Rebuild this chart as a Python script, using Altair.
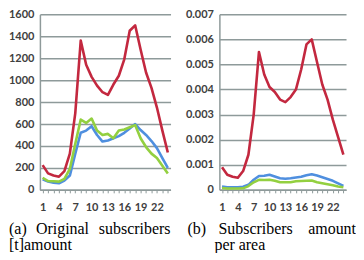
import altair as alt
import pandas as pd

hours = list(range(1, 25))

# Panel (a): original subscribers amount
blue_a = [95, 75, 65, 60, 85, 130, 330, 520, 540, 580, 500, 440, 450, 470, 490, 520, 560, 600, 545, 500, 445, 380, 290, 200]
green_a = [110, 80, 78, 75, 100, 190, 420, 640, 610, 650, 540, 500, 510, 470, 540, 550, 570, 590, 470, 390, 330, 290, 220, 150]
red_a = [225, 150, 130, 120, 170, 330, 700, 1360, 1140, 1030, 950, 890, 865, 960, 1040, 1190, 1450, 1500, 1280, 1070, 930, 750, 540, 340]

# Panel (b): subscribers amount per area
blue_b = [0.00013, 0.0001, 0.0001, 0.0001, 0.00012, 0.0002, 0.0004, 0.00055, 0.00056, 0.0006, 0.00053, 0.00046,
          0.00044, 0.00046, 0.00049, 0.00052, 0.00058, 0.00062, 0.00057, 0.0005, 0.00043, 0.00036, 0.00026, 0.00016]
green_b = [0.00007, 0.00005, 0.00005, 0.00005, 0.00006, 0.00015, 0.0003, 0.0004, 0.00039, 0.0004, 0.00036, 0.0003,
           0.0003, 0.0003, 0.00034, 0.00035, 0.00036, 0.00037, 0.0003, 0.00026, 0.00022, 0.00018, 0.00013, 0.0001]
red_b = [0.0009, 0.0006, 0.00052, 0.00048, 0.00075, 0.0014, 0.003, 0.0055, 0.0046, 0.0041, 0.0039, 0.0036,
         0.0035, 0.0037, 0.0040, 0.0048, 0.0058, 0.0060, 0.0051, 0.0042, 0.0036, 0.0028, 0.0021, 0.0014]

series_order = ["blue", "green", "red"]
colors = ["#4f8fdf", "#93d040", "#c3283f"]

y_ticks_a = [0, 200, 400, 600, 800, 1000, 1200, 1400, 1600]
y_ticks_b = [0, 0.001, 0.002, 0.003, 0.004, 0.005, 0.006, 0.007]

# caption words: (text, x offset from plot's left edge, line, align)
caption_a = [("(a)", -31, 0, "left"), ("Original", -4, 0, "left"),
             ("subscribers", 131, 0, "right"), ("[t]amount", -31, 1, "left")]
caption_b = [("(b)", -32, 0, "left"), ("Subscribers", -1, 0, "left"),
             ("amount", 137, 0, "right"), ("per area", -5, 1, "left")]

SERIF = "Liberation Serif"
PLOT_H = 176
LINE_Y = [220, 236]


def make_df(blue, green, red):
    rows = []
    for name, vals in zip(series_order, [blue, green, red]):
        for h, v in zip(hours, vals):
            rows.append({"hour": h, "series": name, "value": v})
    return pd.DataFrame(rows)


def panel(df, ticks, label_expr, extent, width, caption):
    x = alt.X("hour:O", sort=hours, title=None,
              axis=alt.Axis(labelAngle=0, labelOverlap=False, grid=False,
                            labelExpr="datum.value % 3 == 1 ? datum.label : ''",
                            tickSize=3, labelPadding=9))
    y = alt.Y("value:Q", title=None,
              scale=alt.Scale(domain=[ticks[0], ticks[-1]], nice=False),
              axis=alt.Axis(values=ticks, labelExpr=label_expr, ticks=False,
                            labelPadding=6, minExtent=extent, maxExtent=extent))
    color = alt.Color("series:N", scale=alt.Scale(domain=series_order, range=colors), legend=None)
    base = alt.Chart(df).mark_line(strokeWidth=2.6, strokeJoin="round").encode(x=x, y=y, color=color)
    layers = [base.transform_filter(alt.datum.series == s) for s in series_order]
    one = pd.DataFrame({"k": [0]})
    for word, dx, line, align in caption:
        layers.append(
            alt.Chart(one).mark_text(font=SERIF, fontSize=16, color="black", align=align,
                                     baseline="alphabetic").encode(
                x=alt.value(dx), y=alt.value(LINE_Y[line]), text=alt.value(word))
        )
    return alt.layer(*layers).properties(width=width, height=PLOT_H)


left = panel(make_df(blue_a, green_a, red_a), y_ticks_a, "format(datum.value, 'd')", 31, 131, caption_a)
right = panel(make_df(blue_b, green_b, red_b), y_ticks_b,
              "datum.value == 0 ? '0' : format(datum.value, '.3f')", 36, 127, caption_b)

chart = alt.hconcat(left, right, spacing=13).properties(
    padding={"left": 0, "top": 0, "right": 0, "bottom": 0}
).configure_view(stroke=None).configure_axis(
    labelFont="Lato", labelFontSize=11, labelFontWeight="bold", labelColor="#404040",
    gridColor="#8e9a9a", gridWidth=1.5, domainColor="#8e9a9a", domainWidth=1.5,
    tickColor="#8e9a9a", tickWidth=1,
)

chart.save("out.html", embed_options={"renderer": "svg", "actions": False})
